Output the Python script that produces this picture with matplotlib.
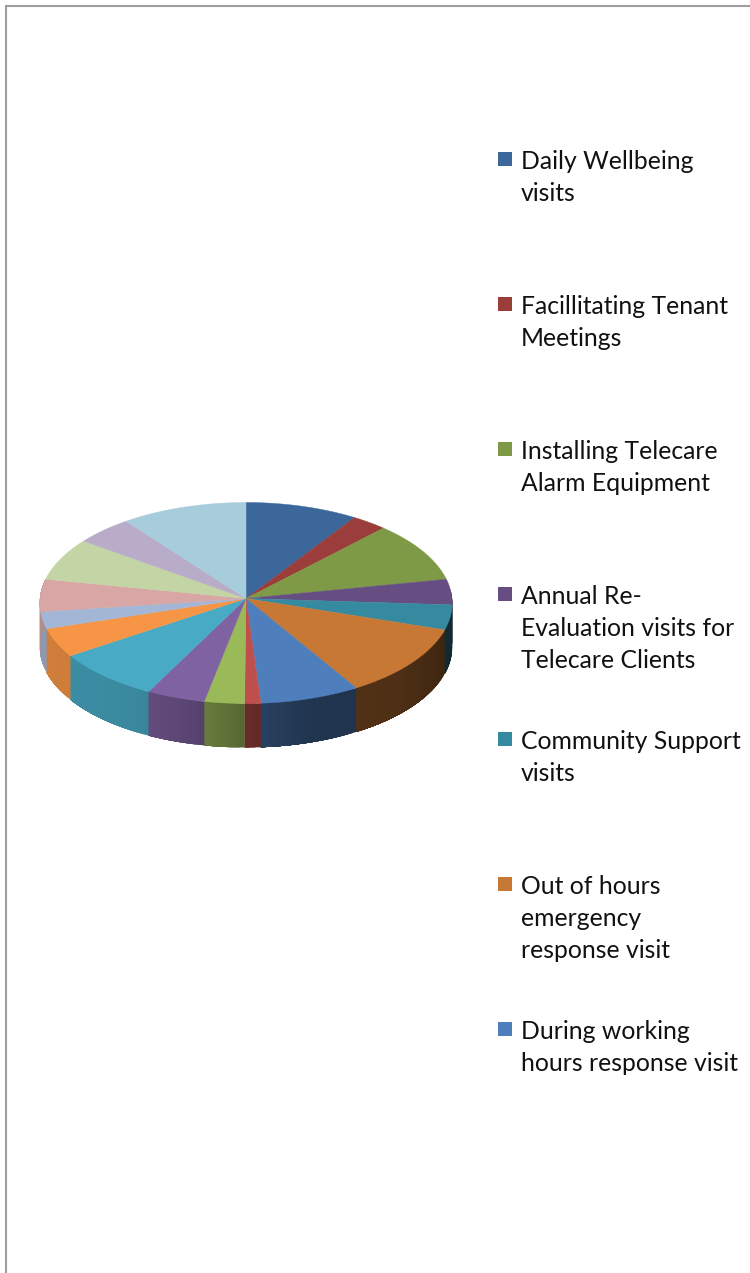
import numpy as np
import matplotlib
matplotlib.use("Agg")
import matplotlib.pyplot as plt
from matplotlib.patches import Polygon, Rectangle

plt.rcParams["font.family"] = ["Lato", "DejaVu Sans"]

# Share of each slice in percent, clockwise from twelve o'clock
shares = [9.2, 2.9, 9.8, 4.1, 4.0, 11.4, 7.5, 1.2, 3.0, 4.4, 8.1, 4.6, 2.7, 5.2, 6.9, 4.7, 10.3]
slice_colors = ["#3C679A", "#9A3D3B", "#7E9A47", "#664E82", "#368AA0", "#C77835", "#4E7EBB",
                "#BE4F4C", "#9ABA59", "#7F62A1", "#48AAC5", "#F69546", "#A3B6D6", "#D7A6A5",
                "#C3D5A4", "#B8ACC9", "#A7CCDB"]

# Legend text, one list per entry (only the first seven entries fit)
legend_lines = [
    ["Daily Wellbeing", "visits"],
    ["Facillitating Tenant", "Meetings"],
    ["Installing Telecare", "Alarm Equipment"],
    ["Annual Re-", "Evaluation visits for", "Telecare Clients"],
    ["Community Support", "visits"],
    ["Out of hours", "emergency", "response visit"],
    ["During working", "hours response visit"],
]

W, H = 750, 1273
cx, cy = 246.0, 598.5
rx, ry, tilt = 206.0, 100.3, 0.0448
depth = 44.0

fig = plt.figure(figsize=(W / 100, H / 100), dpi=100)
ax = fig.add_axes([0, 0, 1, 1])
ax.set_xlim(0, W)
ax.set_ylim(H, 0)
ax.axis("off")


# Perspective view of a point on the unit disc, u to the right and v to the back
def project(u, v):
    s = 1 + tilt * v
    return cx + rx * u / s, cy - ry * v / s


# Wall brightness falls off from left to right
def wall_shade(u):
    return np.interp(u, [-1, -0.5, -0.3, -0.1, 0, 0.3, 0.7, 1], [0.85, 0.8, 0.72, 0.62, 0.55, 0.42, 0.4, 0.3])


edges = np.cumsum([0] + shares) / np.sum(shares) * 2 * np.pi

# Side wall first; each strip runs on under the next one so no seams show
for i, color in enumerate(slice_colors):
    rgb = np.array(matplotlib.colors.to_rgb(color))
    steps = max(2, int((edges[i + 1] - edges[i]) / 0.02))
    t = np.linspace(edges[i], edges[i + 1], steps + 1)
    for a, b in zip(t[:-1], t[1:]):
        mid = (a + b) / 2
        if np.cos(mid) > 0.08:
            continue
        arc = np.linspace(a, edges[i + 1], 40)
        xs, ys = project(np.sin(arc), np.cos(arc))
        pts = np.column_stack([np.r_[xs, xs[::-1]], np.r_[ys, ys[::-1] + depth]])
        shade = rgb * wall_shade(np.sin(mid))
        ax.add_patch(Polygon(pts, closed=True, facecolor=shade, edgecolor="none"))

# Top face
for i, color in enumerate(slice_colors):
    t = np.linspace(edges[i], edges[i + 1], 60)
    xs, ys = project(np.sin(t), np.cos(t))
    apex_x, apex_y = project(0, 0)
    pts = np.column_stack([np.r_[apex_x, xs], np.r_[apex_y, ys]])
    ax.add_patch(Polygon(pts, closed=True, facecolor=color, edgecolor=color, linewidth=0.3))

# Legend on the right
for i, lines in enumerate(legend_lines):
    y = 159 + 145 * i
    ax.add_patch(Rectangle((498, y - 7), 14, 14, facecolor=slice_colors[i], edgecolor="none"))
    for j, line in enumerate(lines):
        ax.text(521, y + 2.5 + 32 * j, line, fontsize=17.8, color="#111111", ha="left", va="center")

# Frame, only the top and left edges are visible
ax.plot([6, 6], [H, 6], color="#9E9E9E", linewidth=1.5, solid_capstyle="butt")
ax.plot([5, W], [6, 6], color="#9E9E9E", linewidth=1.5, solid_capstyle="butt")

fig.savefig("out.png", dpi=100)
